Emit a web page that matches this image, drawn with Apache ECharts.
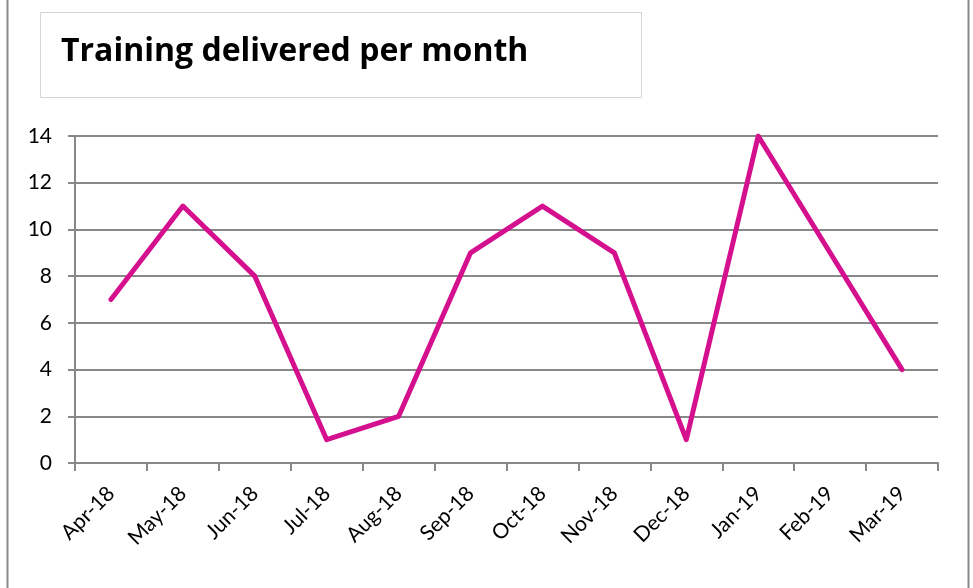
<!DOCTYPE html>
<html><head><meta charset="utf-8">
<script src="https://cdn.jsdelivr.net/npm/echarts@6/dist/echarts.min.js"></script>
<style>html,body{margin:0;padding:0;background:#fff}#c{width:973px;height:588px}</style>
</head><body><div id="c"></div>
<script>
const categories = ['Apr-18','May-18','Jun-18','Jul-18','Aug-18','Sep-18','Oct-18','Nov-18','Dec-18','Jan-19','Feb-19','Mar-19'];
const trainings = [7, 11, 8, 1, 2, 9, 11, 9, 1, 14, 9, 4];
const yTicks = [0, 2, 4, 6, 8, 10, 12, 14];
const titleText = 'Training delivered per month';

const chart = echarts.init(document.getElementById('c'));
chart.setOption({
  animation: false,
  backgroundColor: '#fff',
  graphic: [
    {type: 'rect', shape: {x: 7.5, y: -5, width: 961, height: 600}, style: {fill: 'none', stroke: '#888', lineWidth: 2}, silent: true},
    {type: 'rect', shape: {x: 40.5, y: 12.5, width: 601, height: 85}, style: {fill: '#fff', stroke: '#d4d4d4', lineWidth: 1}, silent: true}
  ],
  title: {
    text: titleText, left: 56, top: 31,
    textStyle: {fontFamily: 'Open Sans', fontWeight: 'bold', fontSize: 32, color: '#000'}
  },
  grid: {left: 75, right: 35, top: 136, bottom: 125},
  xAxis: {
    type: 'category', data: categories, boundaryGap: true,
    axisLine: {lineStyle: {color: '#888', width: 2}},
    axisTick: {show: true, length: 8, alignWithLabel: false, lineStyle: {color: '#888', width: 2}},
    axisLabel: {rotate: 45, fontFamily: 'Lato', fontSize: 21, color: '#000', margin: 27, interval: 0}
  },
  yAxis: {
    type: 'value', min: 0, max: 14, interval: 2,
    axisLine: {show: true, lineStyle: {color: '#888', width: 2}},
    axisTick: {show: true, length: 7, lineStyle: {color: '#888', width: 2}},
    splitLine: {lineStyle: {color: '#888', width: 2}},
    axisLabel: {fontFamily: 'Lato', fontSize: 21, color: '#000', margin: 23,
      formatter: v => yTicks.includes(v) ? String(v) : ''}
  },
  series: [{
    type: 'line', data: trainings, symbol: 'none',
    lineStyle: {color: '#D4108F', width: 5, cap: 'round', join: 'round'}
  }]
});
</script></body></html>
